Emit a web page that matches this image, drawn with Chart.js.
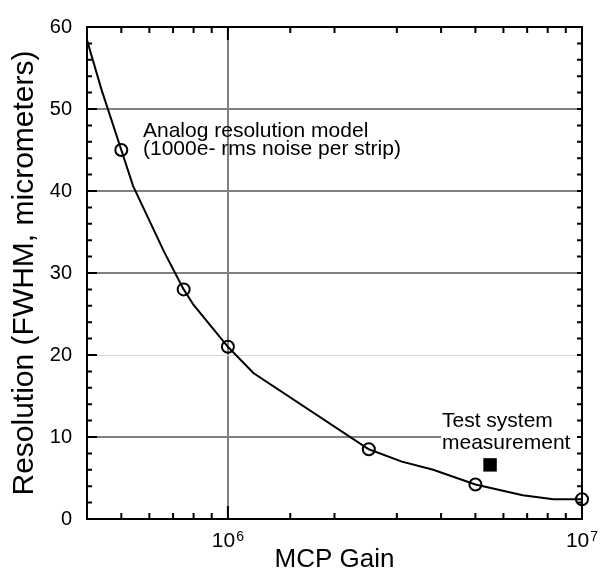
<!doctype html>
<html lang="en">
  <head>
    <meta charset="utf-8">
    <title>MCP Gain vs Resolution</title>
    <script src="https://cdn.jsdelivr.net/npm/chart.js"></script>
    <style>
      body { margin: 0; background: #fff; }
      .wrap { width: 604px; height: 575px; }
    </style>
  </head>
  <body>
    <div class="wrap"><canvas id="gainChart" width="604" height="575"></canvas></div>
    <script>
      // values
      const modelGain = [4.0e5, 4.4e5, 5.0e5, 5.4e5, 6.6e5, 7.5e5, 8.0e5, 1.0e6, 1.18e6, 2.5e6, 3.1e6, 3.8e6, 5.0e6, 6.8e6, 8.3e6, 1.0e7];
      const modelRes = [58.4, 52.3, 45.0, 40.6, 32.6, 28.0, 26.1, 21.0, 17.8, 8.5, 7.0, 6.0, 4.2, 2.9, 2.4, 2.4];
      const circleGain = [5e5, 7.5e5, 1e6, 2.5e6, 5e6, 1e7];
      const circleRes = [45, 28, 21, 8.5, 4.2, 2.4];
      const testGain = [5.5e6];
      const testRes = [6.6];
      const xDecades = [6, 7];
      const yMajor = [0, 10, 20, 30, 40, 50, 60];

      const FONT = '"Liberation Sans", Arial, Helvetica, sans-serif';
      const pts = (xs, ys) => xs.map((v, i) => ({ x: v, y: ys[i] }));

      // inward ticks, frame and the 10^n labels
      const frame = {
        id: 'frame',
        beforeDatasetsDraw(chart) {
          const { ctx } = chart;
          ctx.save();
          // opaque box behind the test system note
          ctx.fillStyle = '#fff';
          ctx.fillRect(441, 408, chart.chartArea.right - 441, 44);
          ctx.fillStyle = '#000';
          ctx.font = '21px ' + FONT;
          ctx.textAlign = 'left';
          ctx.textBaseline = 'alphabetic';
          ctx.fillText('Test system', 442, 427);
          ctx.fillText('measurement', 442, 449);
          ctx.fillText('Analog resolution model', 143, 137);
          ctx.fillText('(1000e- rms noise per strip)', 143, 155);
          ctx.restore();
        },
        afterDraw(chart) {
          const { ctx, chartArea: a, scales: { x, y } } = chart;
          ctx.save();
          ctx.strokeStyle = '#000';
          ctx.lineWidth = 2;
          ctx.beginPath();
          x.ticks.forEach(t => {
            const px = x.getPixelForValue(t.value);
            if (px <= a.left + 1 || px >= a.right - 1) return;
            const lg = Math.log10(t.value);
            const len = Math.abs(lg - Math.round(lg)) < 1e-6 ? 13 : 6;
            ctx.moveTo(px, a.bottom); ctx.lineTo(px, a.bottom - len);
            ctx.moveTo(px, a.top); ctx.lineTo(px, a.top + len);
          });
          y.ticks.forEach(t => {
            const py = y.getPixelForValue(t.value);
            if (py <= a.top + 1 || py >= a.bottom - 1) return;
            const len = t.value % 10 === 0 ? 10 : 5;
            ctx.moveTo(a.left, py); ctx.lineTo(a.left + len, py);
            ctx.moveTo(a.right, py); ctx.lineTo(a.right - 5, py);
          });
          ctx.stroke();
          ctx.strokeRect(a.left, a.top, a.right - a.left, a.bottom - a.top);

          // x labels as 10 with superscript exponent
          ctx.fillStyle = '#000';
          ctx.textBaseline = 'alphabetic';
          ctx.textAlign = 'left';
          xDecades.forEach(e => {
            const px = x.getPixelForValue(Math.pow(10, e));
            ctx.font = '21px ' + FONT;
            const wBase = ctx.measureText('10').width;
            ctx.font = '14px ' + FONT;
            const wExp = ctx.measureText(String(e)).width;
            const x0 = px - (wBase + wExp + 1) / 2;
            ctx.font = '21px ' + FONT;
            ctx.fillText('10', x0, 547);
            ctx.font = '14px ' + FONT;
            ctx.fillText(String(e), x0 + wBase + 1, 541);
          });
          ctx.restore();
        }
      };

      new Chart(document.getElementById('gainChart'), {
        type: 'scatter',
        data: {
          datasets: [
            {
              label: 'Analog resolution model',
              data: pts(modelGain, modelRes),
              showLine: true,
              borderColor: '#000',
              borderWidth: 2,
              pointRadius: 0,
              tension: 0
            },
            {
              label: 'Model points',
              data: pts(circleGain, circleRes),
              pointStyle: 'circle',
              pointRadius: 6,
              borderColor: '#000',
              borderWidth: 2,
              backgroundColor: 'rgba(0,0,0,0)',
              clip: false
            },
            {
              label: 'Test system measurement',
              data: pts(testGain, testRes),
              pointStyle: 'rect',
              pointRadius: 9.5,
              borderWidth: 0,
              backgroundColor: '#000'
            }
          ]
        },
        options: {
          responsive: false,
          animation: false,
          layout: { padding: { top: 15, right: 22, left: 0, bottom: 0 } },
          plugins: { legend: { display: false }, tooltip: { enabled: false } },
          scales: {
            x: {
              type: 'logarithmic',
              min: 4e5,
              max: 1e7,
              border: { display: false },
              grid: {
                drawTicks: false,
                lineWidth: 2,
                color: c => (c.tick && Math.abs(c.tick.value - 1e6) < 1) ? '#808080' : 'rgba(0,0,0,0)'
              },
              ticks: { autoSkip: false, maxRotation: 0, callback: () => '' },
              title: {
                display: true,
                text: 'MCP Gain',
                color: '#000',
                font: { family: FONT, size: 26, lineHeight: 1 },
                padding: { top: 0, bottom: 2 }
              },
              afterFit: s => { s.height = 56; }
            },
            y: {
              min: 0,
              max: 60,
              border: { display: false },
              grid: {
                drawTicks: false,
                lineWidth: c => (c.tick && c.tick.value === 20) ? 1 : 2,
                color: c => {
                  const v = c.tick ? c.tick.value : -1;
                  if (v <= 0 || v >= 60 || v % 10 !== 0) return 'rgba(0,0,0,0)';
                  return v === 20 ? '#d4d4d4' : '#808080';
                }
              },
              ticks: {
                stepSize: 2,
                autoSkip: false,
                padding: 15,
                color: '#000',
                font: { family: FONT, size: 20 },
                callback: v => yMajor.includes(v) ? String(v) : ''
              },
              title: {
                display: true,
                text: 'Resolution (FWHM, micrometers)',
                color: '#000',
                font: { family: FONT, size: 30, lineHeight: 1 },
                padding: { top: 10, bottom: 0 }
              },
              afterFit: s => { s.width = 87; }
            }
          }
        },
        plugins: [frame]
      });
    </script>
  </body>
</html>
